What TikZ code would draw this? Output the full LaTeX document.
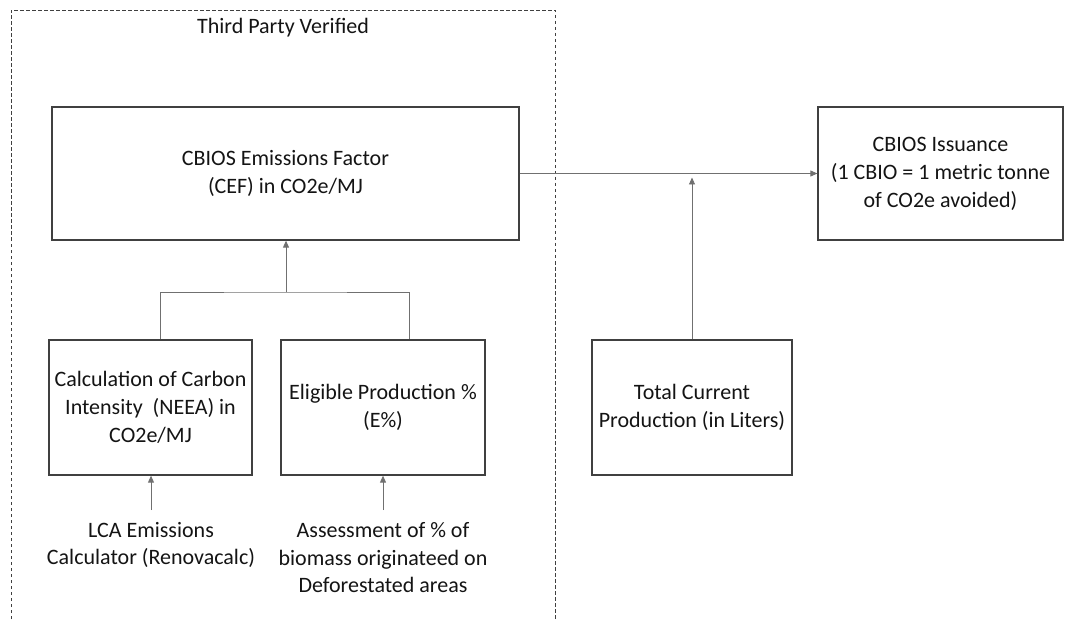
\documentclass[tikz,border=0pt]{standalone}
\usepackage{fontspec}
\setmainfont{Carlito}
\usetikzlibrary{arrows.meta}
\definecolor{boxline}{HTML}{404040}
\definecolor{conn}{HTML}{707070}
\definecolor{txt}{HTML}{141414}
\begin{document}
\begin{tikzpicture}[x=1pt,y=-1pt,
  box/.style={draw=boxline,line width=1.3pt,minimum width=#1,align=center,inner sep=0pt,text=txt,font=\fontsize{22}{28}\selectfont},
  lbl/.style={align=center,text=txt,font=\fontsize{22}{27.5}\selectfont,inner sep=0pt},
  conline/.style={draw=conn,line width=0.9pt},
  arr/.style={conline,-{Triangle[length=7pt,width=6pt]}}]
\useasboundingbox (0,0) rectangle (1075,620);
% dashed region
\draw[boxline,line width=0.9pt,dashed,dash pattern=on 3.5pt off 2.5pt] (11,625) -- (11,10) -- (555,10) -- (555,625);
\node[lbl] (tpv) at (283,28) {Third Party Verified};
% boxes
\node[box=467pt,minimum height=133pt] (cef) at (285.5,173.5) {CBIOS Emissions Factor\\(CEF) in CO2e/MJ};
\node[box=245pt,minimum height=133pt] (iss) at (940.5,173.5) {CBIOS Issuance\\(1 CBIO = 1 metric tonne\\of CO2e avoided)};
\node[box=203pt,minimum height=135pt] (calc) at (150.5,407.5) {Calculation of Carbon\\Intensity\ \ (NEEA) in\\CO2e/MJ};
\node[box=204pt,minimum height=135pt] (elig) at (383,407.5) {Eligible Production \%\\(E\%)};
\node[box=200pt,minimum height=135pt] (tot) at (692,407.5) {Total Current\\Production (in Liters)};
\node[lbl] (lca) at (151,545) {LCA Emissions\\Calculator (Renovacalc)};
\node[lbl] (asm) at (383,558) {Assessment of \% of\\biomass originateed on\\Deforestated areas};
\coordinate (lcatop) at (151,510);
\coordinate (asmtop) at (383,510);
% connectors
\coordinate (j) at (286,292);
\draw[conline] ([xshift=10]calc.north) |- (j) -| ([xshift=26]elig.north);
\draw[arr] (j) -- (j |- cef.south);
\draw[arr] (cef.east) -- (iss.west);
\draw[arr] (tot.north) -- ([yshift=-4]tot.north |- iss.west);
\draw[arr] (lcatop) -- (lcatop |- calc.south);
\draw[arr] (asmtop) -- (asmtop |- elig.south);
\end{tikzpicture}
\end{document}
